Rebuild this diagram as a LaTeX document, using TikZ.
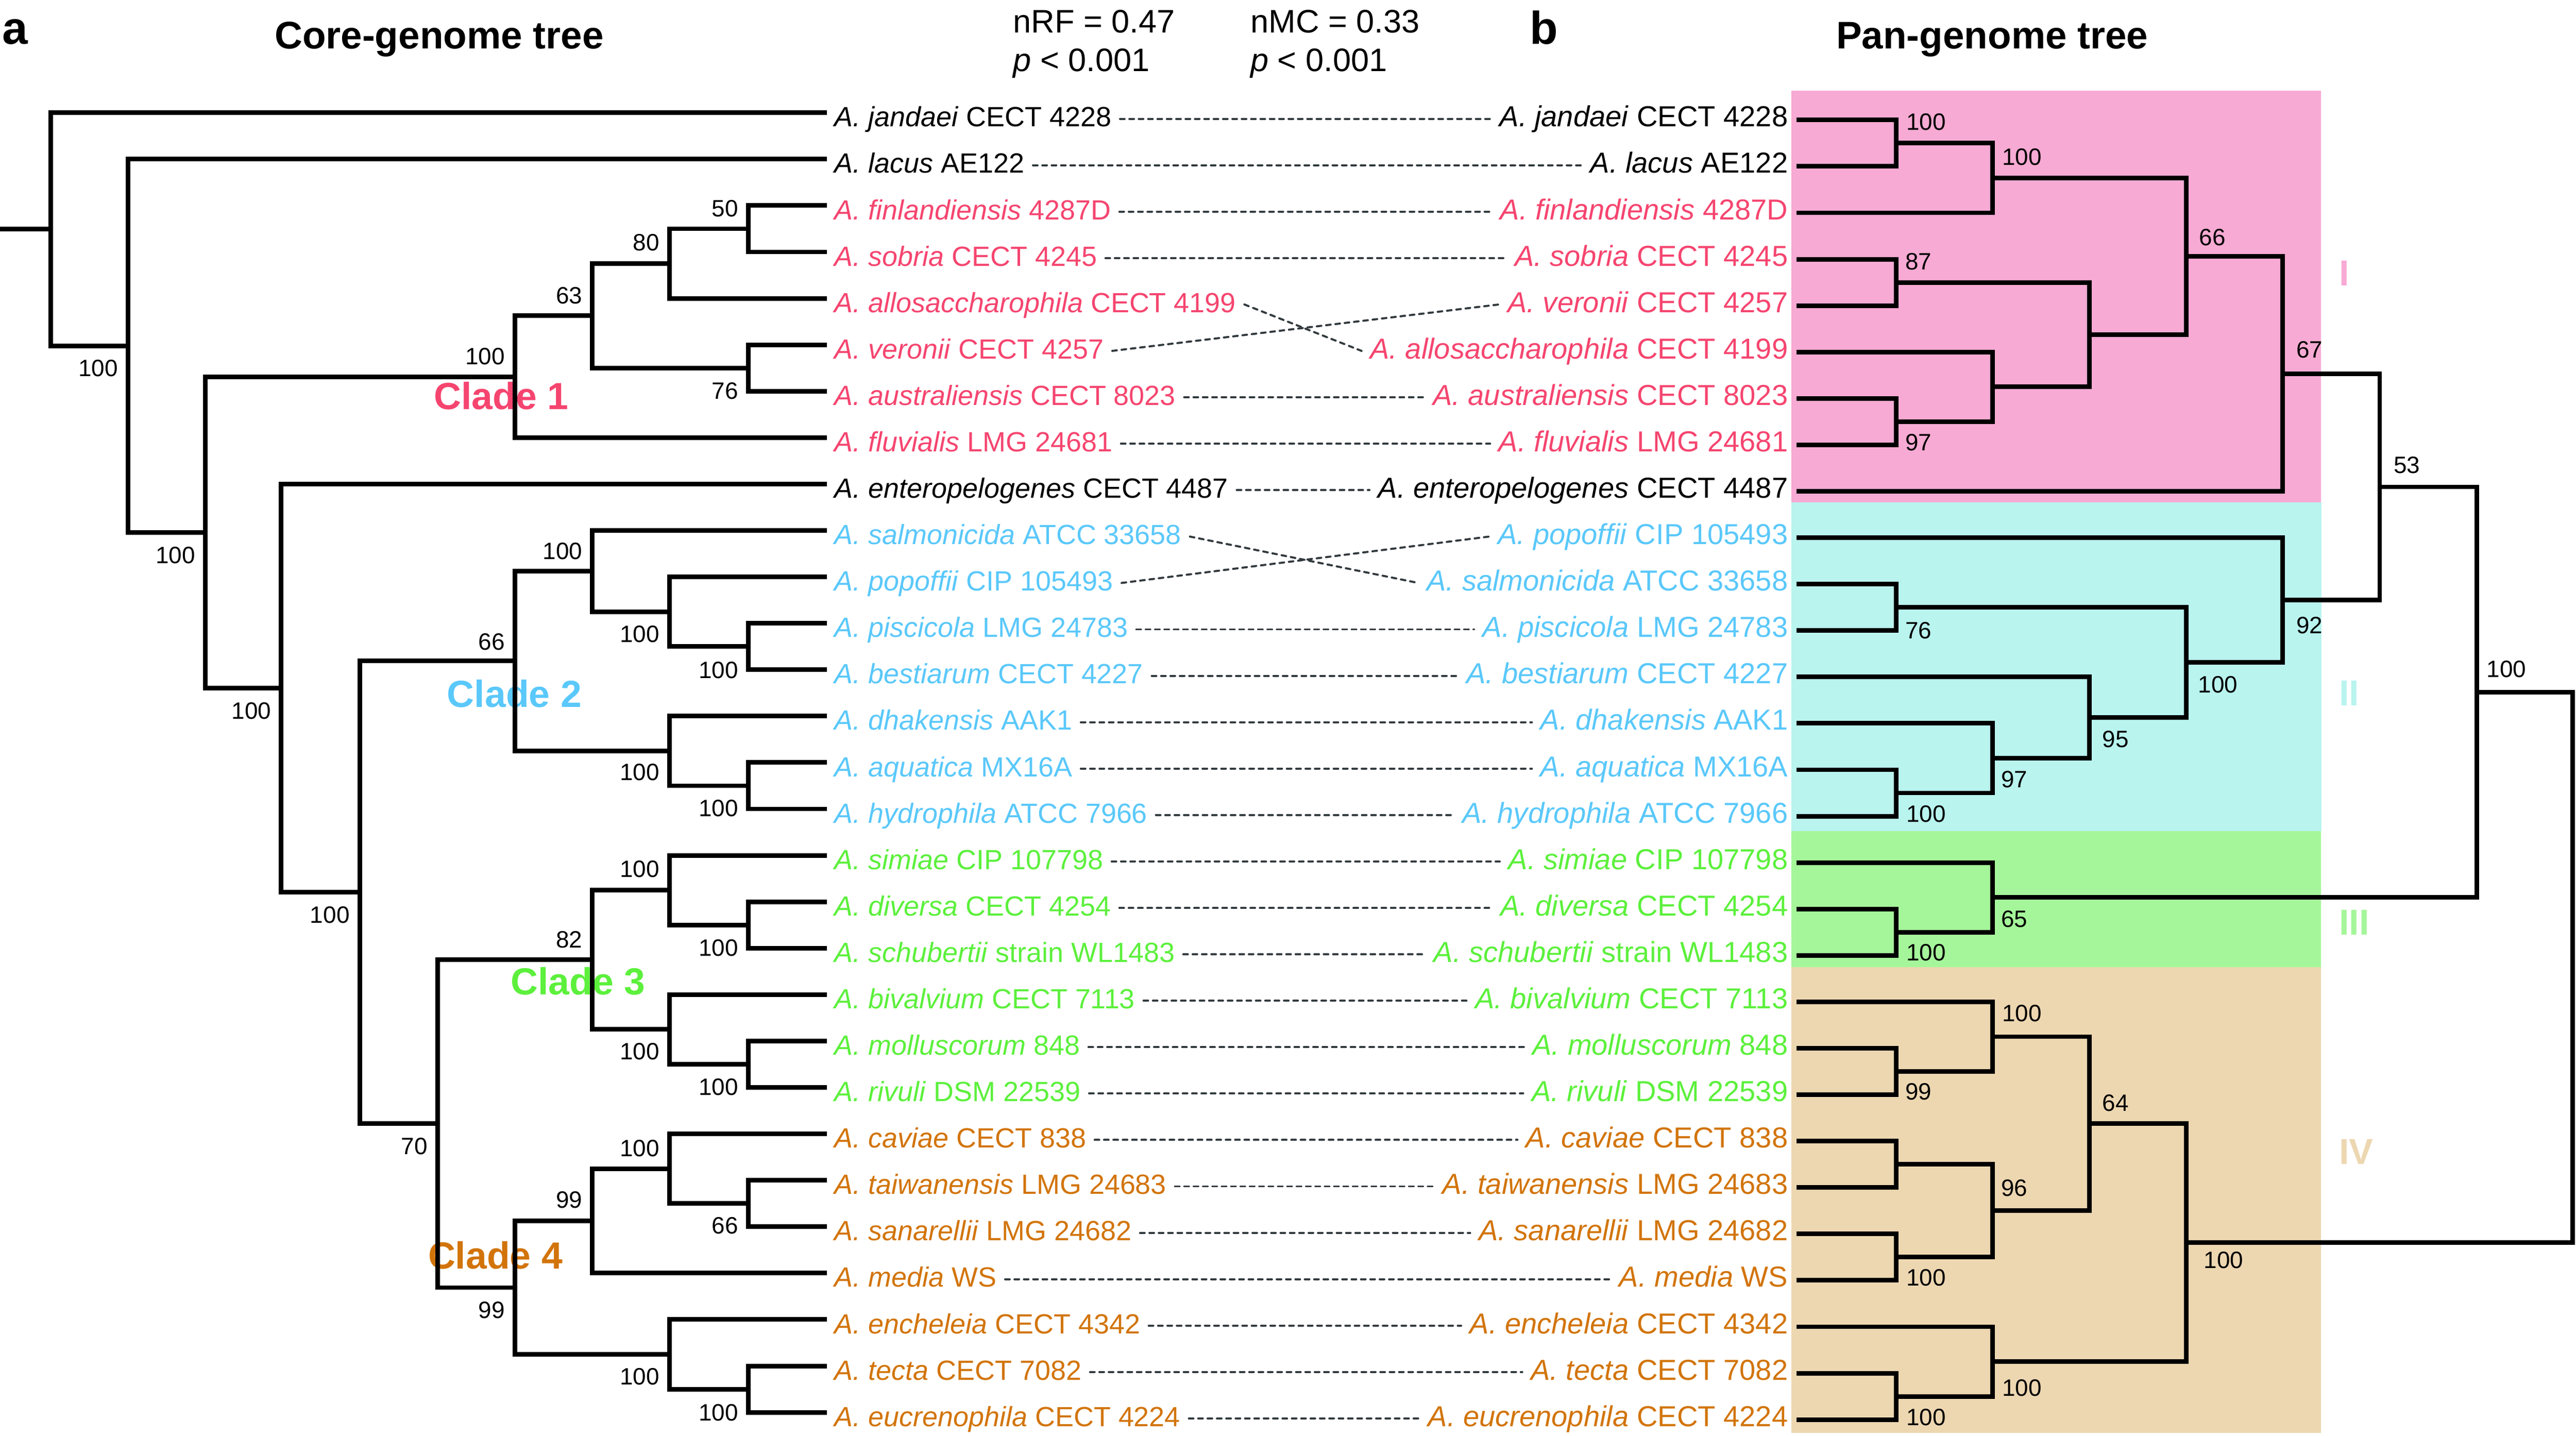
\documentclass[tikz,border=0pt]{standalone}
\usepackage{fontspec}
\setmainfont{Liberation Sans}
\usetikzlibrary{calc}
\definecolor{clA}{RGB}{245,69,111}
\definecolor{clB}{RGB}{90,200,250}
\definecolor{clC}{RGB}{92,240,60}
\definecolor{clD}{RGB}{210,116,10}
\definecolor{bxI}{RGB}{247,170,211}
\definecolor{bxII}{RGB}{185,244,239}
\definecolor{bxIII}{RGB}{165,246,154}
\definecolor{bxIV}{RGB}{237,215,177}
\definecolor{dashgray}{RGB}{50,58,62}
\begin{document}
\begin{tikzpicture}[x=1pt,y=-1pt,
  br/.style={line width=2.8pt,draw=black,line join=miter},
  bsl/.style={font=\fontsize{14.4}{15}\selectfont,inner sep=0pt},
  bsleft/.style={bsl,anchor=east},
  bsright/.style={bsl,anchor=west},
  lefttxt/.style={font=\fontsize{16.9}{17}\selectfont,inner sep=0pt,anchor=base west},
  righttxt/.style={font=\fontsize{17.6}{18}\selectfont,inner sep=0pt,anchor=base east},
  dl/.style={draw=dashgray,line width=1.25pt,dash pattern=on 2.8pt off 2.9pt,line cap=round},
  cladetxt/.style={font=\bfseries\fontsize{23}{23}\selectfont,inner sep=0pt,anchor=base west},
  romantxt/.style={font=\bfseries\fontsize{22}{22}\selectfont,inner sep=0pt,anchor=west},
  hdr/.style={font=\bfseries\fontsize{23.4}{24}\selectfont,inner sep=0pt,anchor=base west},
  panel/.style={font=\bfseries\fontsize{28}{28}\selectfont,inner sep=0pt,anchor=base west},
  stat/.style={font=\fontsize{19.8}{20}\selectfont,inner sep=0pt,anchor=base west}]
\useasboundingbox (0,0) rectangle (1568,873.84);

% background boxes
\fill[bxI] (1090.3,55.3) rectangle (1412.6,305.6);
\fill[bxII] (1090.3,305.6) rectangle (1413.2,505.9);
\fill[bxIII] (1090.3,505.9) rectangle (1412.6,588.7);
\fill[bxIV] (1090.3,588.7) rectangle (1412.6,872.1);

% roman numerals
\node[romantxt,text=bxI] (rI) at (1423.6,166.4) {I};
\node[romantxt,text=bxII] (rII) at (1423.6,422) {II};
\node[romantxt,text=bxIII] (rIII) at (1423.6,561.6) {III};
\node[romantxt,text=bxIV] (rIV) at (1423.6,700.9) {IV};

% headers
\node[panel] (pa) at (1.2,26.8) {a};
\node[hdr] (ta) at (167,29.7) {Core-genome tree};
\node[panel] (pb) at (931,26.7) {b};
\node[hdr] (tb) at (1117.5,29.7) {Pan-genome tree};
\node[stat] (s1) at (616.5,20) {nRF = 0.47};
\node[stat] (s2) at (616.5,43.3) {\textit{p} < 0.001};
\node[stat] (s3) at (761,20) {nMC = 0.33};
\node[stat] (s4) at (761,43.3) {\textit{p} < 0.001};

% clade labels (under the tree lines)
\node[cladetxt,text=clA] (k1) at (263.9,249.1) {Clade 1};
\node[cladetxt,text=clB] (k2) at (272,430.3) {Clade 2};
\node[cladetxt,text=clC] (k3) at (310.7,605.4) {Clade 3};
\node[cladetxt,text=clD] (k4) at (260.4,772.3) {Clade 4};

% taxa labels, tips and dashed links
\foreach \i/\r/\sp/\st/\col in {
0/0/jandaei/CECT 4228/black,
1/1/lacus/AE122/black,
2/2/finlandiensis/4287D/clA,
3/3/sobria/CECT 4245/clA,
4/5/allosaccharophila/CECT 4199/clA,
5/4/veronii/CECT 4257/clA,
6/6/australiensis/CECT 8023/clA,
7/7/fluvialis/LMG 24681/clA,
8/8/enteropelogenes/CECT 4487/black,
9/10/salmonicida/ATCC 33658/clB,
10/9/popoffii/CIP 105493/clB,
11/11/piscicola/LMG 24783/clB,
12/12/bestiarum/CECT 4227/clB,
13/13/dhakensis/AAK1/clB,
14/14/aquatica/MX16A/clB,
15/15/hydrophila/ATCC 7966/clB,
16/16/simiae/CIP 107798/clC,
17/17/diversa/CECT 4254/clC,
18/18/schubertii/strain WL1483/clC,
19/19/bivalvium/CECT 7113/clC,
20/20/molluscorum/848/clC,
21/21/rivuli/DSM 22539/clC,
22/22/caviae/CECT 838/clD,
23/23/taiwanensis/LMG 24683/clD,
24/24/sanarellii/LMG 24682/clD,
25/25/media/WS/clD,
26/26/encheleia/CECT 4342/clD,
27/27/tecta/CECT 7082/clD,
28/28/eucrenophila/CECT 4224/clD}{
  \node[lefttxt,text=\col] (L\i) at (507.8,{77.1+28.25*\i}) {\textit{A. \sp} \st};
  \node[righttxt,text=\col] (R\i) at (1088.5,{77.1+28.25*\r}) {\textit{A. \sp} \st};
  \coordinate (lt\i) at (503.4,{68.6+28.25*\i});
  \coordinate (rr\r) at (1093.6,{73+28.25*\r});
  \draw[dl] ([xshift=5pt,yshift=4.8pt]L\i.base east) -- ([xshift=-5pt,yshift=4.8pt]R\i.base west);
}

% ---------- left (core-genome) tree ----------
\coordinate (a1) at (455.5,139.225);
\coordinate (a2) at (407.5,160.41);
\coordinate (a3) at (455.5,223.975);
\coordinate (a4) at (360.6,192.19);
\coordinate (a5) at (313.5,229.27);
\coordinate (b1) at (455.5,393.475);
\coordinate (b2) at (407.5,372.29);
\coordinate (b3) at (360.6,347.57);
\coordinate (b4) at (455.5,478.225);
\coordinate (b5) at (407.5,457.04);
\coordinate (b6) at (313.5,402.3);
\coordinate (c1) at (455.5,562.975);
\coordinate (c2) at (407.5,541.79);
\coordinate (c3) at (455.5,647.725);
\coordinate (c4) at (407.5,626.54);
\coordinate (c5) at (360.6,584.17);
\coordinate (d1) at (455.5,732.475);
\coordinate (d2) at (407.5,711.29);
\coordinate (d3) at (360.6,743.07);
\coordinate (d4) at (455.5,845.475);
\coordinate (d5) at (407.5,824.29);
\coordinate (d6) at (313.5,783.68);
\coordinate (e1) at (266.4,683.93);
\coordinate (e2) at (219.0,543.11);
\coordinate (e3) at (171.2,418.86);
\coordinate (e4) at (125.0,324.07);
\coordinate (e5) at (78.0,210.46);
\coordinate (r0) at (30.8,139.53);
\coordinate (rstub) at (0,139.53);

\draw[br] (lt2) -| (a1) |- (lt3);
\draw[br] (a1) -| (a2) |- (lt4);
\draw[br] (lt5) -| (a3) |- (lt6);
\draw[br] (a2) -| (a4) |- (a3);
\draw[br] (a4) -| (a5) |- (lt7);
\draw[br] (lt11) -| (b1) |- (lt12);
\draw[br] (lt10) -| (b2) |- (b1);
\draw[br] (lt9) -| (b3) |- (b2);
\draw[br] (lt14) -| (b4) |- (lt15);
\draw[br] (lt13) -| (b5) |- (b4);
\draw[br] (b3) -| (b6) |- (b5);
\draw[br] (lt17) -| (c1) |- (lt18);
\draw[br] (lt16) -| (c2) |- (c1);
\draw[br] (lt20) -| (c3) |- (lt21);
\draw[br] (lt19) -| (c4) |- (c3);
\draw[br] (c2) -| (c5) |- (c4);
\draw[br] (lt23) -| (d1) |- (lt24);
\draw[br] (lt22) -| (d2) |- (d1);
\draw[br] (d2) -| (d3) |- (lt25);
\draw[br] (lt27) -| (d4) |- (lt28);
\draw[br] (lt26) -| (d5) |- (d4);
\draw[br] (d3) -| (d6) |- (d5);
\draw[br] (c5) -| (e1) |- (d6);
\draw[br] (b6) -| (e2) |- (e1);
\draw[br] (lt8) -| (e3) |- (e2);
\draw[br] (a5) -| (e4) |- (e3);
\draw[br] (lt1) -| (e5) |- (e4);
\draw[br] (lt0) -| (r0) |- (e5);
\draw[br] (rstub) -- (r0);

% left bootstrap values
\node[bsleft] (va1) at (449.5,126.8) {50};
\node[bsleft] (va2) at (401.5,147.7) {80};
\node[bsleft] (va3) at (449.5,237.8) {76};
\node[bsleft] (va4) at (354.6,180) {63};
\node[bsleft] (va5) at (307.5,217) {100};
\node[bsleft] (vb1) at (449.5,408) {100};
\node[bsleft] (vb2) at (401.5,385.9) {100};
\node[bsleft] (vb3) at (354.6,335.6) {100};
\node[bsleft] (vb4) at (449.5,492) {100};
\node[bsleft] (vb5) at (401.5,470) {100};
\node[bsleft] (vb6) at (307.5,390.5) {66};
\node[bsleft] (vc1) at (449.5,576.8) {100};
\node[bsleft] (vc2) at (401.5,529) {100};
\node[bsleft] (vc3) at (449.5,661.6) {100};
\node[bsleft] (vc4) at (401.5,640) {100};
\node[bsleft] (vc5) at (354.6,571.9) {82};
\node[bsleft] (vd1) at (449.5,746) {66};
\node[bsleft] (vd2) at (401.5,698.9) {100};
\node[bsleft] (vd3) at (354.6,730.4) {99};
\node[bsleft] (vd4) at (449.5,859.7) {100};
\node[bsleft] (vd5) at (401.5,837.7) {100};
\node[bsleft] (vd6) at (307.5,797.3) {99};
\node[bsleft] (ve1) at (260.4,697.5) {70};
\node[bsleft] (ve2) at (213,557) {100};
\node[bsleft] (ve3) at (165.2,432.6) {100};
\node[bsleft] (ve4) at (119,338) {100};
\node[bsleft] (ve5) at (72,224) {100};

% ---------- right (pan-genome) tree ----------
\coordinate (N1) at (1154.2,87.125);
\coordinate (N2) at (1212.9,108.31);
\coordinate (N4) at (1154.2,171.875);
\coordinate (N7) at (1154.2,256.625);
\coordinate (N6) at (1212.9,235.44);
\coordinate (N5) at (1271.8,203.66);
\coordinate (N3) at (1330.8,155.99);
\coordinate (N8) at (1389.5,227.49);
\coordinate (C3) at (1154.2,369.625);
\coordinate (C6) at (1154.2,482.625);
\coordinate (C5) at (1212.9,461.44);
\coordinate (C4) at (1271.8,436.72);
\coordinate (C2) at (1330.8,403.17);
\coordinate (C1) at (1389.5,365.21);
\coordinate (N9) at (1448.5,296.35);
\coordinate (G2) at (1154.2,567.375);
\coordinate (G1) at (1212.9,546.19);
\coordinate (N10) at (1507.5,421.27);
\coordinate (T2) at (1154.2,652.125);
\coordinate (T1) at (1212.9,630.94);
\coordinate (T5) at (1154.2,708.625);
\coordinate (T6) at (1154.2,765.125);
\coordinate (T4) at (1212.9,736.875);
\coordinate (T3) at (1271.8,683.91);
\coordinate (T9) at (1154.2,849.875);
\coordinate (T8) at (1212.9,828.69);
\coordinate (T7) at (1330.8,756.3);
\coordinate (RT) at (1565.8,588.8);

\draw[br] (rr0) -| (N1) |- (rr1);
\draw[br] (N1) -| (N2) |- (rr2);
\draw[br] (rr3) -| (N4) |- (rr4);
\draw[br] (rr6) -| (N7) |- (rr7);
\draw[br] (rr5) -| (N6) |- (N7);
\draw[br] (N4) -| (N5) |- (N6);
\draw[br] (N2) -| (N3) |- (N5);
\draw[br] (N3) -| (N8) |- (rr8);
\draw[br] (rr10) -| (C3) |- (rr11);
\draw[br] (rr14) -| (C6) |- (rr15);
\draw[br] (rr13) -| (C5) |- (C6);
\draw[br] (rr12) -| (C4) |- (C5);
\draw[br] (C3) -| (C2) |- (C4);
\draw[br] (rr9) -| (C1) |- (C2);
\draw[br] (N8) -| (N9) |- (C1);
\draw[br] (rr17) -| (G2) |- (rr18);
\draw[br] (rr16) -| (G1) |- (G2);
\draw[br] (N9) -| (N10) |- (G1);
\draw[br] (rr20) -| (T2) |- (rr21);
\draw[br] (rr19) -| (T1) |- (T2);
\draw[br] (rr22) -| (T5) |- (rr23);
\draw[br] (rr24) -| (T6) |- (rr25);
\draw[br] (T5) -| (T4) |- (T6);
\draw[br] (T1) -| (T3) |- (T4);
\draw[br] (rr27) -| (T9) |- (rr28);
\draw[br] (rr26) -| (T8) |- (T9);
\draw[br] (T3) -| (T7) |- (T8);
\draw[br] (N10) -| (RT) |- (T7);

% right bootstrap values
\node[bsright] (wN1) at (1160.2,74.1) {100};
\node[bsright] (wN2) at (1218.5,95.5) {100};
\node[bsright] (wN3) at (1338.5,144.4) {66};
\node[bsright] (wN4) at (1159.5,159.3) {87};
\node[bsright] (wN7) at (1159.5,269.3) {97};
\node[bsright] (wN8) at (1397.5,212.8) {67};
\node[bsright] (wN9) at (1456.8,283.1) {53};
\node[bsright] (wN10) at (1513.5,407.3) {100};
\node[bsright] (wC1) at (1397.5,380.6) {92};
\node[bsright] (wC2) at (1337.8,416.7) {100};
\node[bsright] (wC3) at (1159.5,383.6) {76};
\node[bsright] (wC4) at (1279.5,450) {95};
\node[bsright] (wC5) at (1217.9,474.3) {97};
\node[bsright] (wC6) at (1160.2,495.5) {100};
\node[bsright] (wG1) at (1217.9,559.5) {65};
\node[bsright] (wG2) at (1160.2,579.7) {100};
\node[bsright] (wT1) at (1218.5,616.6) {100};
\node[bsright] (wT2) at (1159.5,664.4) {99};
\node[bsright] (wT3) at (1279.5,671.3) {64};
\node[bsright] (wT4) at (1217.9,722.9) {96};
\node[bsright] (wT6) at (1160.2,777.6) {100};
\node[bsright] (wT7) at (1341.2,766.8) {100};
\node[bsright] (wT8) at (1218.5,844.6) {100};
\node[bsright] (wT9) at (1160.2,862.7) {100};
\end{tikzpicture}
\end{document}
